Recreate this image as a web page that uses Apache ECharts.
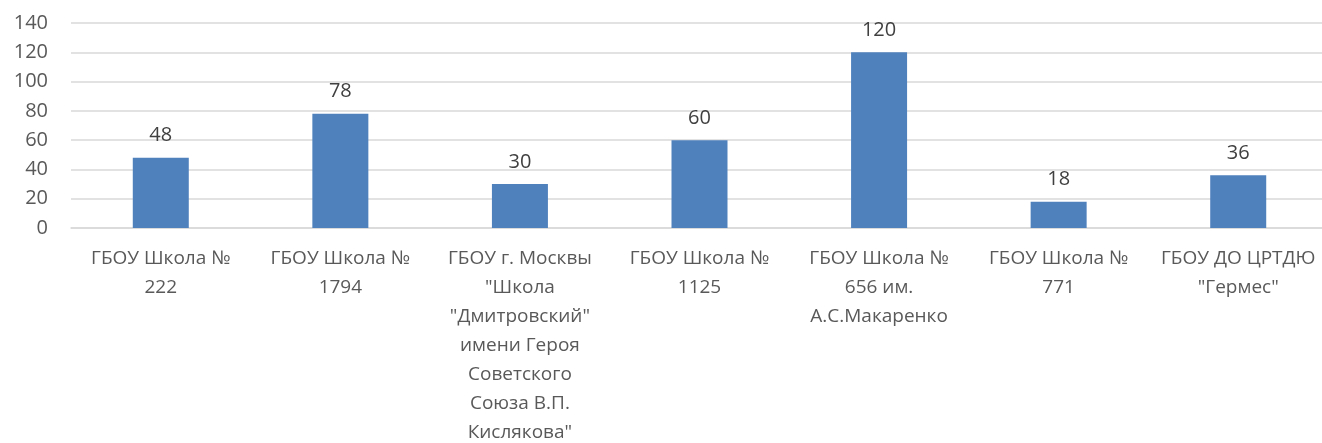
<!DOCTYPE html>
<html>
<head>
<meta charset="utf-8">
<script src="https://cdn.jsdelivr.net/npm/echarts@6/dist/echarts.min.js"></script>
<style>
html, body { margin: 0; padding: 0; background: #fff; }
#chart { width: 1322px; height: 443px; }
</style>
</head>
<body>
<div id="chart"></div>
<script>
var categories = [
    'ГБОУ Школа №\n222',
    'ГБОУ Школа №\n1794',
    'ГБОУ г. Москвы\n"Школа\n"Дмитровский"\nимени Героя\nСоветского\nСоюза В.П.\nКислякова"',
    'ГБОУ Школа №\n1125',
    'ГБОУ Школа №\n656 им.\nА.С.Макаренко',
    'ГБОУ Школа №\n771',
    'ГБОУ ДО ЦРТДЮ\n"Гермес"'
];
var values = [48, 78, 30, 60, 120, 18, 36];

var fontName = '"Open Sans", sans-serif';

var myChart = echarts.init(document.getElementById('chart'));

var options = {
    animation: false,
    grid: {
        left: 71,
        width: 1257,
        top: 23,
        bottom: 215,
        outerBoundsMode: 'none'
    },
    xAxis: {
        type: 'category',
        data: categories,
        axisLine: { lineStyle: { color: '#d9d9d9', width: 1.5 } },
        axisTick: { show: false },
        axisLabel: {
            interval: 0,
            margin: 16,
            color: '#595959',
            fontSize: 19,
            lineHeight: 29,
            fontFamily: fontName
        }
    },
    yAxis: {
        type: 'value',
        min: 0,
        max: 140,
        interval: 20,
        axisLine: { show: false },
        axisTick: { show: false },
        splitLine: { lineStyle: { color: '#d9d9d9', width: 1.5 } },
        axisLabel: {
            margin: 23,
            color: '#595959',
            fontSize: 20,
            fontFamily: fontName
        }
    },
    series: [{
        type: 'bar',
        data: values,
        barWidth: 56,
        itemStyle: { color: '#4f81bd' },
        label: {
            show: true,
            position: 'top',
            distance: 12,
            color: '#404040',
            fontSize: 20,
            fontFamily: fontName
        }
    }]
};

myChart.setOption(options);
</script>
</body>
</html>
